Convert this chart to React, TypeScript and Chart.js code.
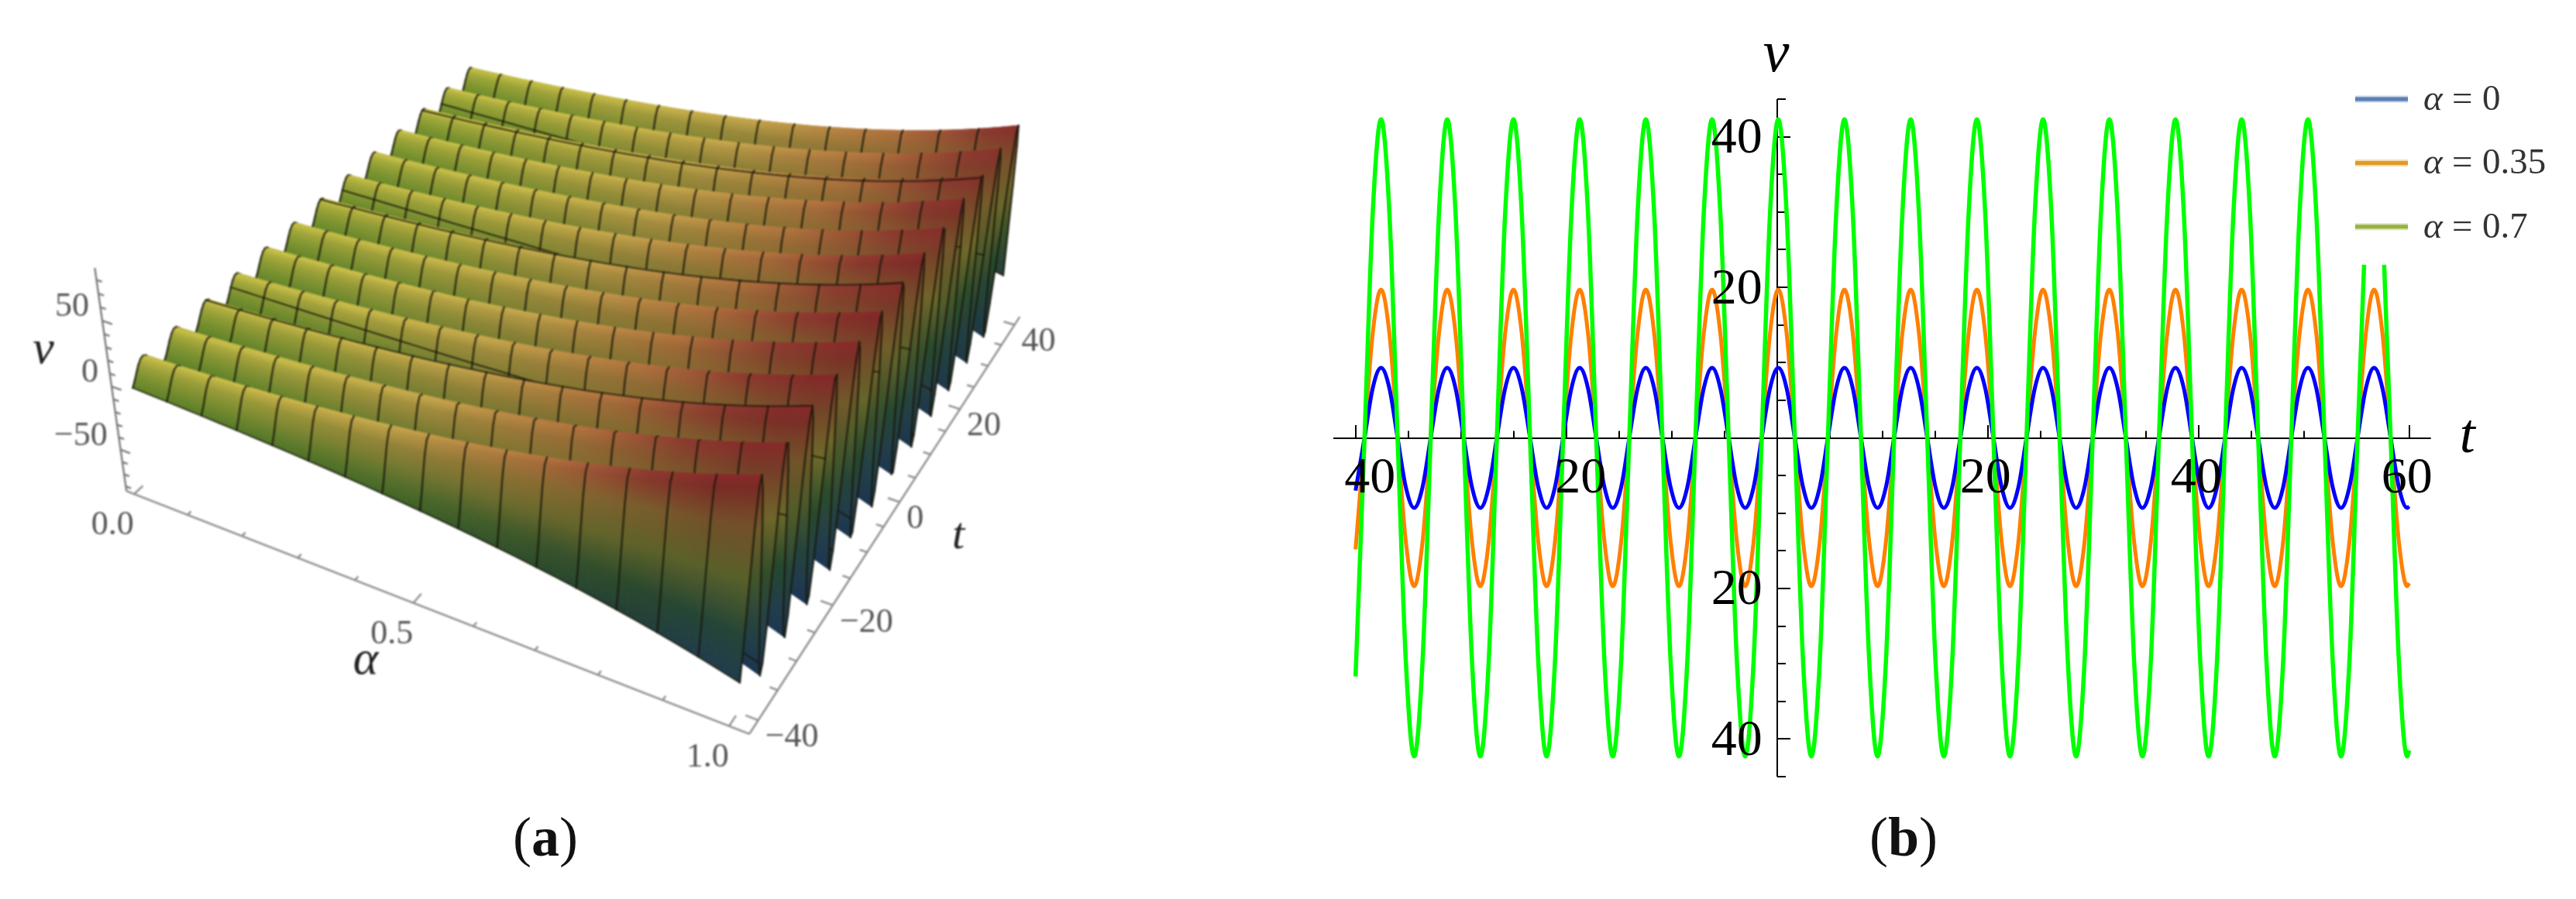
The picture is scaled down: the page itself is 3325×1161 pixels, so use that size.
import React, { useEffect, useRef } from "react";
import { Chart, registerables } from "chart.js";

Chart.register(...registerables);

// ---------- panel (b): values ----------
const tValues = [
  -40.0, -39.15, -38.37,
  -37.58, -36.79, -36.01, -35.22, -34.44, -33.65, -32.87, -32.08,
  -31.3, -30.51, -29.73, -28.94, -28.16, -27.37, -26.59, -25.8,
  -25.01, -24.23, -23.44, -22.65, -21.87, -21.08, -20.3, -19.51,
  -18.73, -17.94, -17.16, -16.37, -15.59, -14.8, -14.02, -13.23,
  -12.45, -11.66, -10.88, -10.09, -9.31, -8.52, -7.74, -6.95,
  -6.16, -5.38, -4.59, -3.8, -3.02, -2.23, -1.45, -0.66,
  0.12, 0.91, 1.69, 2.48, 3.26, 4.05, 4.83, 5.62,
  6.4, 7.19, 7.97, 8.76, 9.54, 10.33, 11.11, 11.9,
  12.69, 13.47, 14.26, 15.05, 15.83, 16.62, 17.4, 18.19,
  18.97, 19.76, 20.54, 21.33, 22.11, 22.9, 23.68, 24.47,
  25.25, 26.04, 26.82, 27.61, 28.39, 29.18, 29.96, 30.75,
  31.54, 32.33, 33.11, 33.9, 34.68, 35.47, 36.25, 37.04,
  37.82, 38.61, 39.39, 40.18, 40.96, 41.75, 42.53, 43.32,
  44.1, 44.89, 45.67, 46.46, 47.24, 48.03, 48.81, 49.6,
  50.39, 51.18, 51.96, 52.75, 53.53, 54.32, 55.1, 55.89,
  56.67, 57.46, 58.24, 59.03, 59.81, 60.0,
];
const blueValues = [
  -7.0, 0, 6.6,
  9.3, 6.6, 0, -6.6, -9.3, -6.6, 0, 6.6,
  9.3, 6.6, 0, -6.6, -9.3, -6.6, 0, 6.6,
  9.3, 6.6, 0, -6.6, -9.3, -6.6, 0, 6.6,
  9.3, 6.6, 0, -6.6, -9.3, -6.6, 0, 6.6,
  9.3, 6.6, 0, -6.6, -9.3, -6.6, 0, 6.6,
  9.3, 6.6, 0, -6.6, -9.3, -6.6, 0, 6.6,
  9.3, 6.6, 0, -6.6, -9.3, -6.6, 0, 6.6,
  9.3, 6.6, 0, -6.6, -9.3, -6.6, 0, 6.6,
  9.3, 6.6, 0, -6.6, -9.3, -6.6, 0, 6.6,
  9.3, 6.6, 0, -6.6, -9.3, -6.6, 0, 6.6,
  9.3, 6.6, 0, -6.6, -9.3, -6.6, 0, 6.6,
  9.3, 6.6, 0, -6.6, -9.3, -6.6, 0, 6.6,
  9.3, 6.6, 0, -6.6, -9.3, -6.6, 0, 6.6,
  9.3, 6.6, 0, -6.6, -9.3, -6.6, 0, 6.6,
  9.3, 6.6, 0, -6.6, -9.3, -6.6, 0, 6.6,
  9.3, 6.6, 0, -6.6, -9.3, -9.1,
];
const orangeValues = [
  -14.8, 0, 13.9,
  19.7, 13.9, 0, -13.9, -19.7, -13.9, 0, 13.9,
  19.7, 13.9, 0, -13.9, -19.7, -13.9, 0, 13.9,
  19.7, 13.9, 0, -13.9, -19.7, -13.9, 0, 13.9,
  19.7, 13.9, 0, -13.9, -19.7, -13.9, 0, 13.9,
  19.7, 13.9, 0, -13.9, -19.7, -13.9, 0, 13.9,
  19.7, 13.9, 0, -13.9, -19.7, -13.9, 0, 13.9,
  19.7, 13.9, 0, -13.9, -19.7, -13.9, 0, 13.9,
  19.7, 13.9, 0, -13.9, -19.7, -13.9, 0, 13.9,
  19.7, 13.9, 0, -13.9, -19.7, -13.9, 0, 13.9,
  19.7, 13.9, 0, -13.9, -19.7, -13.9, 0, 13.9,
  19.7, 13.9, 0, -13.9, -19.7, -13.9, 0, 13.9,
  19.7, 13.9, 0, -13.9, -19.7, -13.9, 0, 13.9,
  19.7, 13.9, 0, -13.9, -19.7, -13.9, 0, 13.9,
  19.7, 13.9, 0, -13.9, -19.7, -13.9, 0, 13.9,
  19.7, 13.9, 0, -13.9, -19.7, -13.9, 0, 13.9,
  19.7, 13.9, 0, -13.9, -19.7, -19.3,
];
const greenT = [
  -40.0, -39.15, -38.37,
  -37.58, -36.79, -36.01, -35.22, -34.44, -33.65, -32.87, -32.08,
  -31.3, -30.51, -29.73, -28.94, -28.16, -27.37, -26.59, -25.8,
  -25.01, -24.23, -23.44, -22.65, -21.87, -21.08, -20.3, -19.51,
  -18.73, -17.94, -17.16, -16.37, -15.59, -14.8, -14.02, -13.23,
  -12.45, -11.66, -10.88, -10.09, -9.31, -8.52, -7.74, -6.95,
  -6.16, -5.38, -4.59, -3.8, -3.02, -2.23, -1.45, -0.66,
  0.12, 0.91, 1.69, 2.48, 3.26, 4.05, 4.83, 5.62,
  6.4, 7.19, 7.97, 8.76, 9.54, 10.33, 11.11, 11.9,
  12.69, 13.47, 14.26, 15.05, 15.83, 16.62, 17.4, 18.19,
  18.97, 19.76, 20.54, 21.33, 22.11, 22.9, 23.68, 24.47,
  25.25, 26.04, 26.82, 27.61, 28.39, 29.18, 29.96, 30.75,
  31.54, 32.33, 33.11, 33.9, 34.68, 35.47, 36.25, 37.04,
  37.82, 38.61, 39.39, 40.18, 40.96, 41.75, 42.53, 43.32,
  44.1, 44.89, 45.67, 46.46, 47.24, 48.03, 48.81, 49.6,
  50.39, 51.18, 51.96, 52.75, 53.53, 54.32, 55.1, 55.72,
  56.67, 57.62, 58.24, 59.03, 59.81, 60.0,
];
const greenValues = [
  -31.7, 0, 29.9,
  42.3, 29.9, 0, -29.9, -42.3, -29.9, 0, 29.9,
  42.3, 29.9, 0, -29.9, -42.3, -29.9, 0, 29.9,
  42.3, 29.9, 0, -29.9, -42.3, -29.9, 0, 29.9,
  42.3, 29.9, 0, -29.9, -42.3, -29.9, 0, 29.9,
  42.3, 29.9, 0, -29.9, -42.3, -29.9, 0, 29.9,
  42.3, 29.9, 0, -29.9, -42.3, -29.9, 0, 29.9,
  42.3, 29.9, 0, -29.9, -42.3, -29.9, 0, 29.9,
  42.3, 29.9, 0, -29.9, -42.3, -29.9, 0, 29.9,
  42.3, 29.9, 0, -29.9, -42.3, -29.9, 0, 29.9,
  42.3, 29.9, 0, -29.9, -42.3, -29.9, 0, 29.9,
  42.3, 29.9, 0, -29.9, -42.3, -29.9, 0, 29.9,
  42.3, 29.9, 0, -29.9, -42.3, -29.9, 0, 29.9,
  42.3, 29.9, 0, -29.9, -42.3, -29.9, 0, 29.9,
  42.3, 29.9, 0, -29.9, -42.3, -29.9, 0, 29.9,
  42.3, 29.9, 0, -29.9, -42.3, -29.9, 0, 23.0,
  null, 23.0, 0, -29.9, -42.3, -41.5,
];
const xTicksB = [-40, -35, -30, -25, -20, -15, -10, -5, 5, 10, 15, 20, 25, 30, 35, 40, 45, 50, 55, 60];
const xLabelledB = [-40, -20, 20, 40, 60];
const yTicksB = [-45, -40, -35, -30, -25, -20, -15, -10, -5, 5, 10, 15, 20, 25, 30, 35, 40, 45];
const yLabelledB = [-40, -20, 20, 40];
const legendNumbers = ["0", "0.35", "0.7"];

// ---------- panel (a): surface table, v = ridgeAmplitude[alpha] * ridgeWave[t] ----------
const surfaceAlpha = [
  0, 0.03125, 0.0625, 0.09375, 0.125, 0.15625, 0.1875, 0.21875, 0.25, 0.28125, 0.3125,
  0.34375, 0.375, 0.40625, 0.4375, 0.46875, 0.5, 0.53125, 0.5625, 0.59375, 0.625,
  0.65625, 0.6875, 0.71875, 0.75, 0.78125, 0.8125, 0.84375, 0.875, 0.90625, 0.9375, 0.96875, 1,
];
const ridgeAmplitude = [
  9.3, 9.95, 10.64, 11.39, 12.18, 13.03, 13.94, 14.92, 15.96, 17.07, 18.27,
  19.54, 20.91, 22.37, 23.93, 25.6, 27.39, 29.3, 31.34, 33.53, 35.87,
  38.38, 41.06, 43.93, 46.99, 50.27, 53.79, 57.54, 61.56, 65.86, 70.46, 75.38, 80.64,
];
const surfaceT = [
  -40, -39.5, -39, -38.5, -38, -37.5, -37, -36.5, -36, -35.5,
  -35, -34.5, -34, -33.5, -33, -32.5, -32, -31.5, -31, -30.5,
  -30, -29.5, -29, -28.5, -28, -27.5, -27, -26.5, -26, -25.5,
  -25, -24.5, -24, -23.5, -23, -22.5, -22, -21.5, -21, -20.5,
  -20, -19.5, -19, -18.5, -18, -17.5, -17, -16.5, -16, -15.5,
  -15, -14.5, -14, -13.5, -13, -12.5, -12, -11.5, -11, -10.5,
  -10, -9.5, -9, -8.5, -8, -7.5, -7, -6.5, -6, -5.5,
  -5, -4.5, -4, -3.5, -3, -2.5, -2, -1.5, -1, -0.5,
  0, 0.5, 1, 1.5, 2, 2.5, 3, 3.5, 4, 4.5,
  5, 5.5, 6, 6.5, 7, 7.5, 8, 8.5, 9, 9.5,
  10, 10.5, 11, 11.5, 12, 12.5, 13, 13.5, 14, 14.5,
  15, 15.5, 16, 16.5, 17, 17.5, 18, 18.5, 19, 19.5,
  20, 20.5, 21, 21.5, 22, 22.5, 23, 23.5, 24, 24.5,
  25, 25.5, 26, 26.5, 27, 27.5, 28, 28.5, 29, 29.5,
  30, 30.5, 31, 31.5, 32, 32.5, 33, 33.5, 34, 34.5,
  35, 35.5, 36, 36.5, 37, 37.5, 38, 38.5, 39, 39.5,
  40,
];
const ridgeWave = [
  -0.751, -0.344, 0.148, 0.604, 0.912, 0.997, 0.838, 0.475, -0.007, -0.48,
  -0.846, -0.998, -0.907, -0.594, -0.134, 0.358, 0.762, 0.979, 0.957, 0.7,
  0.27, -0.223, -0.666, -0.94, -0.988, -0.795, -0.405, 0.083, 0.551, 0.883,
  0.999, 0.872, 0.529, 0.058, -0.427, -0.809, -0.991, -0.932, -0.644, -0.199,
  0.295, 0.717, 0.964, 0.974, 0.746, 0.335, -0.158, -0.614, -0.918, -0.996,
  -0.832, -0.465, 0.017, 0.494, 0.85, 0.999, 0.902, 0.585, 0.124, -0.366,
  -0.767, -0.981, -0.953, -0.693, -0.263, 0.232, 0.67, 0.944, 0.987, 0.787,
  0.396, -0.092, -0.56, -0.888, -1.0, -0.867, -0.523, -0.049, 0.436, 0.814,
  0.993, 0.929, 0.637, 0.19, -0.304, -0.723, -0.966, -0.972, -0.739, -0.327,
  0.167, 0.619, 0.92, 0.995, 0.827, 0.456, -0.026, -0.502, -0.855, -0.999,
  -0.898, -0.577, -0.115, 0.376, 0.774, 0.983, 0.951, 0.687, 0.254, -0.24,
  -0.676, -0.947, -0.986, -0.782, -0.388, 0.102, 0.566, 0.892, 1.0, 0.862,
  0.514, 0.04, -0.444, -0.821, -0.994, -0.926, -0.632, -0.18, 0.313, 0.73,
  0.968, 0.969, 0.733, 0.317, -0.176, -0.627, -0.923, -0.995, -0.824, -0.449,
  0.035, 0.51, 0.86, 0.999, 0.894, 0.569, 0.105, -0.384, -0.78, -0.985,
  -0.948, -0.68, -0.245, 0.249, 0.683, 0.95, 0.983, 0.776, 0.38, -0.111,
  -0.574,
];
const alphaTicks = [0, 0.1, 0.2, 0.3, 0.4, 0.5, 0.6, 0.7, 0.8, 0.9, 1];
const alphaLabelled = [0, 0.5, 1];
const tTicks = [-40, -35, -30, -25, -20, -15, -10, -5, 0, 5, 10, 15, 20, 25, 30, 35, 40];
const tLabelled = [-40, -20, 0, 20, 40];
const vTicks = [-80, -70, -60, -50, -40, -30, -20, -10, 0, 10, 20, 30, 40, 50, 60, 70, 80];
const vLabelled = [-50, 0, 50];

// Colour of the surface by alpha (rows) and by wave height (columns)
const shadeAlpha = [0, 0.25, 0.5, 0.75, 0.9, 1];
const shadeWave = [-1, -0.6, -0.2, 0.3, 0.66, 0.92, 1];
const shadeRows = [
  ["#5f7f28", "#698a2b", "#76902e", "#8a9c33", "#9ea638", "#b5b340", "#c9c44a"],
  ["#4f7227", "#5b7c29", "#6f872e", "#8a9135", "#9d9c3a", "#bcae44", "#cdc04c"],
  ["#3a5e28", "#456a28", "#5f742c", "#847e35", "#96843a", "#b89a46", "#c9a94e"],
  ["#27472e", "#2c4c2a", "#43592a", "#7a6e2e", "#8a6a32", "#a4683a", "#b5743f"],
  ["#203c40", "#233f35", "#2f4f28", "#736a2b", "#7a5a2c", "#86382c", "#8f3a30"],
  ["#1c3552", "#24404a", "#26492a", "#6f6a2a", "#744a2a", "#7a2a26", "#8a2a2a"],
];

const SERIF = '"Liberation Serif", "Times New Roman", serif';
const hexRgb = (h: string) => [parseInt(h.slice(1, 3), 16), parseInt(h.slice(3, 5), 16), parseInt(h.slice(5, 7), 16)];
const shadeRgb = shadeRows.map((r) => r.map(hexRgb));

function locate(list: number[], v: number) {
  let i = 0;
  while (i < list.length - 2 && v > list[i + 1]) i++;
  const f = Math.min(1, Math.max(0, (v - list[i]) / (list[i + 1] - list[i])));
  return [i, f];
}
function shade(alpha: number, t: number, w: number) {
  const a = Math.min(1, Math.max(0, alpha - t * 0.0015));
  const [i, fi] = locate(shadeAlpha, a);
  const [j, fj] = locate(shadeWave, w);
  const out = [0, 1, 2].map((c) => {
    const top = shadeRgb[i][j][c] * (1 - fj) + shadeRgb[i][j + 1][c] * fj;
    const bot = shadeRgb[i + 1][j][c] * (1 - fj) + shadeRgb[i + 1][j + 1][c] * fj;
    return Math.round(top * (1 - fi) + bot * fi);
  });
  return `rgb(${out[0]},${out[1]},${out[2]})`;
}

// Perspective camera of the 3D box (alpha, t, v) -> chart units
function project(alpha: number, t: number, v: number) {
  const u = (t + 37.58) / 75.4;
  const cv = -0.000399 * v;
  const W = -0.11825 * alpha + 0.19738 * u + 1 + cv;
  const X = 672.8 * alpha + 540.8 * u + 186 + cv * 730;
  const Y = 195.1 * alpha - 352.9 * u + 475 + cv * 4629;
  return { x: X / W, y: Y / W };
}
const BOX = { a0: -0.015, a1: 1.03, t0: -42.23, t1: 42, v0: -83.8, v1: 88.6 };
const PANEL_B_LEFT = 1650;
const SUB_COLUMNS = 4;

function axisPoints(start: any, end: any, ticks: any[]) {
  const pts: any[] = [start, end];
  ticks.forEach(([p, q]) => {
    pts.push({ x: p.x, y: null }, p, q);
  });
  return pts;
}

function label(ctx: any, str: string, x: number, y: number, font: string, color: string, align: any = "left") {
  ctx.font = font;
  ctx.fillStyle = color;
  ctx.textAlign = align;
  ctx.textBaseline = "alphabetic";
  ctx.fillText(str, x, y);
}

function caption(ctx: any, letter: string, left: number, base: number) {
  const reg = `72px ${SERIF}`;
  const bold = `bold 72px ${SERIF}`;
  label(ctx, "(", left, base, reg, "#111");
  const w1 = ctx.measureText("(").width;
  label(ctx, letter, left + w1, base, bold, "#111");
  const w2 = ctx.measureText(letter).width;
  label(ctx, ")", left + w1 + w2, base, reg, "#111");
}

const lerp = (p: number[], q: number[], f: number) => [p[0] + (q[0] - p[0]) * f, p[1] + (q[1] - p[1]) * f];

const surfacePlugin = {
  id: "surface",
  beforeDatasetsDraw(chart: any) {
    const { ctx, scales } = chart;
    const px = (p: any) => [scales.x.getPixelForValue(p.x), scales.y.getPixelForValue(p.y)];
    const grid = surfaceT.map((t, j) =>
      surfaceAlpha.map((a, k) => px(project(a, t, ridgeAmplitude[k] * ridgeWave[j]))),
    );
    ctx.save();
    ctx.lineJoin = "round";
    ctx.lineCap = "round";
    for (let j = surfaceT.length - 2; j >= 0; j--) {
      for (let k = 0; k < surfaceAlpha.length - 1; k++) {
        for (let s = 0; s < SUB_COLUMNS; s++) {
          const f0 = s / SUB_COLUMNS, f1 = (s + 1) / SUB_COLUMNS;
          const a = lerp(grid[j][k], grid[j][k + 1], f0);
          const b = lerp(grid[j][k], grid[j][k + 1], f1);
          const c = lerp(grid[j + 1][k], grid[j + 1][k + 1], f1);
          const d = lerp(grid[j + 1][k], grid[j + 1][k + 1], f0);
          const am = surfaceAlpha[k] + (surfaceAlpha[k + 1] - surfaceAlpha[k]) * (f0 + f1) / 2;
          const g = ctx.createLinearGradient((a[0] + b[0]) / 2, (a[1] + b[1]) / 2, (c[0] + d[0]) / 2, (c[1] + d[1]) / 2);
          g.addColorStop(0, shade(am, surfaceT[j], ridgeWave[j]));
          g.addColorStop(1, shade(am, surfaceT[j + 1], ridgeWave[j + 1]));
          ctx.beginPath();
          ctx.moveTo(a[0], a[1]);
          ctx.lineTo(b[0], b[1]);
          ctx.lineTo(c[0], c[1]);
          ctx.lineTo(d[0], d[1]);
          ctx.closePath();
          ctx.fillStyle = g;
          ctx.strokeStyle = g;
          ctx.lineWidth = 1;
          ctx.fill();
          ctx.stroke();
        }
      }
      // mesh of the strip
      ctx.strokeStyle = "rgba(24,24,10,0.82)";
      ctx.lineWidth = 2.4;
      for (let k = 0; k < surfaceAlpha.length; k += 2) {
        ctx.beginPath();
        ctx.moveTo(grid[j][k][0], grid[j][k][1]);
        ctx.lineTo(grid[j + 1][k][0], grid[j + 1][k][1]);
        ctx.stroke();
      }
      [j, j + 1].forEach((m) => {
        if (surfaceT[m] % 5 !== 0) return;
        ctx.lineWidth = 1.8;
        ctx.beginPath();
        grid[m].forEach((p: number[], k: number) => (k ? ctx.lineTo(p[0], p[1]) : ctx.moveTo(p[0], p[1])));
        ctx.stroke();
      });
    }
    ctx.restore();
  },
  afterDatasetsDraw(chart: any) {
    const { ctx, scales } = chart;
    const px = (p: any) => [scales.x.getPixelForValue(p.x), scales.y.getPixelForValue(p.y)];
    ctx.save();
    const tickFont = `44px ${SERIF}`;
    const tickColor = "#555555";
    vLabelled.forEach((v) => {
      const [x, y] = px(project(BOX.a0, BOX.t0, v));
      label(ctx, v < 0 ? `\u2212${-v}` : `${v}`, x - 17, y - 6, tickFont, tickColor, "right");
    });
    alphaLabelled.forEach((a) => {
      const [x, y] = px(project(a, BOX.t0, BOX.v0));
      label(ctx, a.toFixed(1), x - 28, y + 52, tickFont, tickColor, "center");
    });
    tLabelled.forEach((t) => {
      const [x, y] = px(project(BOX.a1, t, BOX.v0));
      label(ctx, t < 0 ? `\u2212${-t}` : `${t}`, x + 9, y + 34, tickFont, tickColor);
    });
    label(ctx, "v", scales.x.getPixelForValue(56), scales.y.getPixelForValue(469), `italic 62px ${SERIF}`, "#222", "center");
    label(ctx, "\u03b1", scales.x.getPixelForValue(472), scales.y.getPixelForValue(870), `italic 62px ${SERIF}`, "#222", "center");
    label(ctx, "t", scales.x.getPixelForValue(1237), scales.y.getPixelForValue(708), `italic 58px ${SERIF}`, "#222", "center");
    ctx.restore();
  },
};

const linePlugin = {
  id: "mathAxes",
  beforeDatasetsDraw(chart: any) {
    const { ctx, scales } = chart;
    const x = scales.x, y = scales.y;
    const y0 = Math.round(y.getPixelForValue(0)), x0 = Math.round(x.getPixelForValue(0));
    ctx.save();
    ctx.strokeStyle = "#000";
    ctx.lineWidth = 2;
    ctx.beginPath();
    ctx.moveTo(x.left, y0);
    ctx.lineTo(x.right, y0);
    ctx.moveTo(x0, y.top);
    ctx.lineTo(x0, y.bottom);
    xTicksB.forEach((t) => {
      const p = Math.round(x.getPixelForValue(t));
      ctx.moveTo(p, y0);
      ctx.lineTo(p, y0 - (t % 20 === 0 ? 17 : 9.5));
    });
    yTicksB.forEach((v) => {
      const p = Math.round(y.getPixelForValue(v));
      ctx.moveTo(x0, p);
      ctx.lineTo(x0 + (v % 20 === 0 ? 17 : 11), p);
    });
    ctx.stroke();
    ctx.restore();
  },
  afterDatasetsDraw(chart: any) {
    const { ctx, scales } = chart;
    const x = scales.x, y = scales.y;
    const y0 = y.getPixelForValue(0), x0 = x.getPixelForValue(0);
    ctx.save();
    const font = `66px ${SERIF}`;
    xLabelledB.forEach((t) => {
      label(ctx, `${Math.abs(t)}`, x.getPixelForValue(t) + (t < 0 ? 18.5 : -3), y0 + 70, font, "#000", "center");
    });
    yLabelledB.forEach((v) => {
      label(ctx, `${Math.abs(v)}`, x0 - 19, y.getPixelForValue(v) + 20.5, font, "#000", "right");
    });
    label(ctx, "v", x0 - 1, 92, `italic 76px ${SERIF}`, "#000", "center");
    label(ctx, "t", x.right + 47, y0 + 18, `italic 72px ${SERIF}`, "#000", "center");
    // legend
    const legendFont = `47px ${SERIF}`;
    const L = PANEL_B_LEFT;
    chart.data.datasets.forEach((ds: any, i: number) => {
      const ly = 128 + i * 82.4;
      ctx.lineCap = "butt";
      ctx.strokeStyle = ds.legendColor;
      ctx.globalAlpha = 0.35;
      ctx.lineWidth = 9;
      ctx.beginPath();
      ctx.moveTo(3040 - L, ly);
      ctx.lineTo(3108 - L, ly);
      ctx.stroke();
      ctx.globalAlpha = 1;
      ctx.lineWidth = 5;
      ctx.beginPath();
      ctx.moveTo(3040 - L, ly);
      ctx.lineTo(3108 - L, ly);
      ctx.stroke();
      const base = ly + 14;
      label(ctx, "\u03b1", 3128 - L, base, `italic ${legendFont}`, "#333");
      label(ctx, "=", 3165 - L, base, legendFont, "#333");
      label(ctx, legendNumbers[i], 3204 - L, base, legendFont, "#333");
    });
    caption(ctx, "b", 2413 - L, 1105);
    ctx.restore();
  },
};

const captionPlugin = {
  id: "captionA",
  afterDatasetsDraw(chart: any) {
    const { ctx, scales } = chart;
    ctx.save();
    caption(ctx, "a", scales.x.getPixelForValue(662), scales.y.getPixelForValue(1105));
    ctx.restore();
  },
};

const zip = (ts: number[], vs: (number | null)[]) => ts.map((x, i) => ({ x, y: vs[i] }));

export default function App() {
  const aRef = useRef<HTMLCanvasElement>(null);
  const bRef = useRef<HTMLCanvasElement>(null);

  useEffect(() => {
    const vAxisTicks = vTicks.map((v) => [
      project(BOX.a0, BOX.t0, v),
      project(BOX.a0 + (vLabelled.includes(v) ? 0.018 : 0.01), BOX.t0, v),
    ]);
    const alphaAxisTicks = alphaTicks.map((a) => [
      project(a, BOX.t0, BOX.v0),
      project(a, BOX.t0 + (alphaLabelled.includes(a) ? 1.7 : 0.7), BOX.v0),
    ]);
    const tAxisTicks = tTicks.map((t) => [
      project(BOX.a1, t, BOX.v0),
      project(BOX.a1 - (tLabelled.includes(t) ? 0.019 : 0.012), t, BOX.v0),
    ]);
    const axisStyle = { showLine: true, pointRadius: 0, borderWidth: 2.4, spanGaps: false, tension: 0 };
    const chartA = new Chart(aRef.current as any, {
      type: "line",
      data: {
        datasets: [
          {
            label: "v axis",
            data: axisPoints(project(BOX.a0, BOX.t0, BOX.v0), project(BOX.a0, BOX.t0, BOX.v1), vAxisTicks),
            borderColor: "#7a7a7a",
            ...axisStyle,
          },
          {
            label: "alpha axis",
            data: axisPoints(project(BOX.a0, BOX.t0, BOX.v0), project(BOX.a1, BOX.t0, BOX.v0), alphaAxisTicks),
            borderColor: "#8c8c8c",
            ...axisStyle,
          },
          {
            label: "t axis",
            data: axisPoints(project(BOX.a1, BOX.t0, BOX.v0), project(BOX.a1, BOX.t1, BOX.v0), tAxisTicks),
            borderColor: "#8c8c8c",
            ...axisStyle,
          },
        ],
      },
      options: {
        animation: false,
        responsive: false,
        devicePixelRatio: 1,
        events: [],
        layout: { padding: 0 },
        plugins: { legend: { display: false }, tooltip: { enabled: false } },
        scales: {
          x: { type: "linear", display: false, min: 0, max: 1650 },
          y: { type: "linear", display: false, min: 0, max: 1161, reverse: true },
        },
      },
      plugins: [surfacePlugin],
    } as any);

    const chartCaption = new Chart(document.getElementById("caption-a") as any, {
      type: "line",
      data: { datasets: [] },
      options: {
        animation: false,
        responsive: false,
        devicePixelRatio: 1,
        events: [],
        layout: { padding: 0 },
        plugins: { legend: { display: false }, tooltip: { enabled: false } },
        scales: {
          x: { type: "linear", display: false, min: 0, max: 1650 },
          y: { type: "linear", display: false, min: 0, max: 1161, reverse: true },
        },
      },
      plugins: [captionPlugin],
    } as any);

    const lineStyle = {
      pointRadius: 0,
      borderWidth: 5,
      cubicInterpolationMode: "monotone",
      spanGaps: false,
      borderCapStyle: "butt",
      clip: false,
    };
    const chartB = new Chart(bRef.current as any, {
      type: "line",
      data: {
        datasets: [
          { label: "\u03b1 = 0", data: zip(tValues, blueValues), borderColor: "#0000ff", legendColor: "#5b7fb5", order: 2, ...lineStyle },
          { label: "\u03b1 = 0.35", data: zip(tValues, orangeValues), borderColor: "#ff8000", legendColor: "#e09a26", order: 3, ...lineStyle },
          { label: "\u03b1 = 0.7", data: zip(greenT, greenValues), borderColor: "#00ff00", legendColor: "#97b33f", order: 1, ...lineStyle, borderWidth: 5.5 },
        ],
      },
      options: {
        animation: false,
        responsive: false,
        devicePixelRatio: 1,
        events: [],
        layout: { padding: { left: 71, right: 187.3, top: 128, bottom: 158 } },
        plugins: { legend: { display: false }, tooltip: { enabled: false } },
        scales: {
          x: { type: "linear", display: false, min: -42.11, max: 62.06 },
          y: { type: "linear", display: false, min: -45, max: 45 },
        },
      },
      plugins: [linePlugin],
    } as any);

    return () => {
      chartA.destroy();
      chartCaption.destroy();
      chartB.destroy();
    };
  }, []);

  const base: React.CSSProperties = { position: "absolute", top: 0, display: "block" };
  return (
    <div>
      <canvas ref={aRef} width={1650} height={1161} style={{ ...base, left: 0, width: 1650, height: 1161, filter: "blur(0.8px)" }} />
      <canvas id="caption-a" width={1650} height={1161} style={{ ...base, left: 0, width: 1650, height: 1161 }} />
      <canvas ref={bRef} width={1675} height={1161} style={{ ...base, left: 1650, width: 1675, height: 1161 }} />
    </div>
  );
}
